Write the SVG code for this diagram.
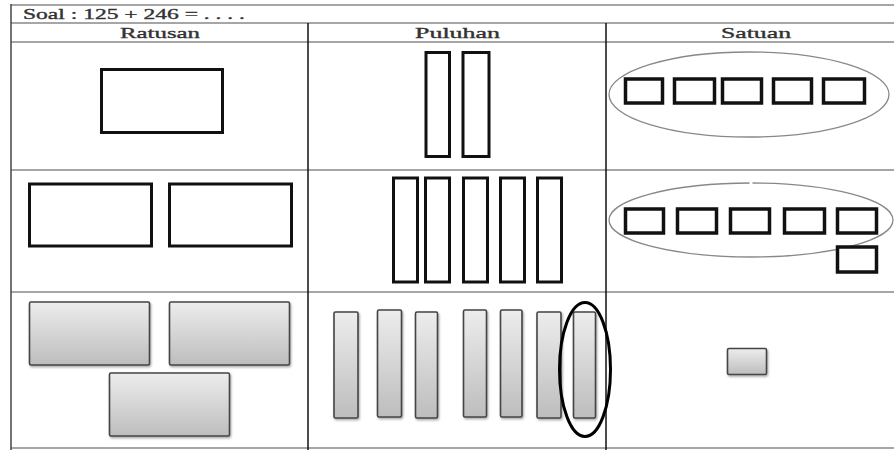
<svg xmlns="http://www.w3.org/2000/svg" width="894" height="450" viewBox="0 0 894 450">
<defs>
<linearGradient id="g" x1="0" y1="0" x2="0" y2="1">
<stop offset="0" stop-color="#ededed"/>
<stop offset="1" stop-color="#bdbdbd"/>
</linearGradient>
<filter id="sh" x="-10%" y="-10%" width="130%" height="130%">
<feDropShadow dx="1" dy="1.5" stdDeviation="0.8" flood-color="#000" flood-opacity="0.35"/>
</filter>
</defs>
<style>
.hl{stroke:#a6a6a6;stroke-width:2;fill:none}
.vl{stroke:#111;stroke-width:1.5;fill:none}
.t{font-family:"Liberation Serif","DejaVu Serif",serif;font-size:15px;fill:#333;stroke:#333;stroke-width:0.35}
.b{fill:#fff;stroke:#111;stroke-width:3}
.s{fill:#fff;stroke:#111;stroke-width:3.5}
.gr{fill:url(#g);stroke:#444;stroke-width:1.6;filter:url(#sh)}
.ov{fill:none;stroke:#888;stroke-width:1.3}
</style>
<rect width="894" height="450" fill="#fff"/>
<g id="grid">
<line class="hl" x1="11" y1="5" x2="894" y2="5"/>
<line class="hl" x1="11" y1="23" x2="894" y2="23"/>
<line class="hl" x1="11" y1="42" x2="894" y2="42"/>
<line class="hl" x1="11" y1="170" x2="894" y2="170"/>
<line class="hl" x1="11" y1="292" x2="894" y2="292"/>
<line class="hl" x1="11" y1="448" x2="894" y2="448" stroke="#ddd"/>
<line x1="11" y1="4" x2="11" y2="450" stroke="#444" stroke-width="1.5"/>
<line class="vl" x1="308" y1="23" x2="308" y2="450"/>
<line class="vl" x1="606" y1="23" x2="606" y2="450"/>
</g>
<g id="labels">
<text class="t" x="23" y="19" textLength="222" lengthAdjust="spacingAndGlyphs">Soal : 125 + 246 = . . . .</text>
<text class="t" x="120" y="38" textLength="80" lengthAdjust="spacingAndGlyphs">Ratusan</text>
<text class="t" x="415" y="38" textLength="85" lengthAdjust="spacingAndGlyphs">Puluhan</text>
<text class="t" x="721" y="38" textLength="70" lengthAdjust="spacingAndGlyphs">Satuan</text>
</g>
<g id="row1-ratusan">
<rect class="b" x="101.5" y="69.5" width="121" height="63"/>
</g>
<g id="row1-puluhan">
<rect class="b" x="426" y="52.5" width="23.5" height="104"/>
<rect class="b" x="463" y="52.5" width="26" height="104"/>
</g>
<g id="row1-satuan">
<ellipse class="ov" cx="749" cy="94.5" rx="140" ry="42.5"/>
<rect class="s" x="625.5" y="79" width="37" height="24"/>
<rect class="s" x="674.5" y="79" width="40" height="24"/>
<rect class="s" x="722.5" y="79" width="39" height="24"/>
<rect class="s" x="773.5" y="79" width="38" height="24"/>
<rect class="s" x="823.5" y="79" width="41" height="24"/>
</g>
<g id="row2-ratusan">
<rect class="b" x="29.5" y="184" width="122" height="62"/>
<rect class="b" x="169.5" y="184" width="122" height="62"/>
</g>
<g id="row2-puluhan">
<rect class="b" x="393.5" y="178" width="24" height="104"/>
<rect class="b" x="425.5" y="178" width="24" height="104"/>
<rect class="b" x="463.5" y="178" width="24" height="104"/>
<rect class="b" x="500.5" y="178" width="24" height="104"/>
<rect class="b" x="537.5" y="178" width="24" height="104"/>
</g>
<g id="row2-satuan">
<ellipse class="ov" cx="751" cy="220" rx="142" ry="37"/>
<rect x="749.5" y="180" width="3" height="6" fill="#fff"/>
<rect class="s" x="625.5" y="209" width="38" height="24"/>
<rect class="s" x="677.5" y="209" width="39" height="24"/>
<rect class="s" x="730.5" y="209" width="39" height="24"/>
<rect class="s" x="784.5" y="209" width="40" height="24"/>
<rect class="s" x="837.5" y="209" width="39" height="24"/>
<rect class="s" x="837.5" y="247" width="39" height="25"/>
</g>
<g id="row3-ratusan">
<rect class="gr" x="29.5" y="302" width="120" height="63" rx="1.5"/>
<rect class="gr" x="169.5" y="302" width="120" height="63" rx="1.5"/>
<rect class="gr" x="109.5" y="373" width="120" height="63" rx="1.5"/>
</g>
<g id="row3-puluhan">
<rect class="gr" x="334" y="312" width="24" height="106" rx="1.5"/>
<rect class="gr" x="377.5" y="310" width="24" height="107" rx="1.5"/>
<rect class="gr" x="415.5" y="312" width="22" height="106" rx="1.5"/>
<rect class="gr" x="463.5" y="310" width="23" height="107" rx="1.5"/>
<rect class="gr" x="500.5" y="310" width="21.5" height="107" rx="1.5"/>
<rect class="gr" x="537" y="312" width="24" height="106" rx="1.5"/>
<rect class="gr" x="573.5" y="312" width="22" height="106" rx="1.5"/>
<ellipse cx="585" cy="369.5" rx="25.5" ry="67" fill="none" stroke="#000" stroke-width="3"/>
</g>
<g id="row3-satuan">
<rect class="gr" x="727.5" y="348.5" width="39" height="26" rx="1.5"/>
</g>
</svg>
